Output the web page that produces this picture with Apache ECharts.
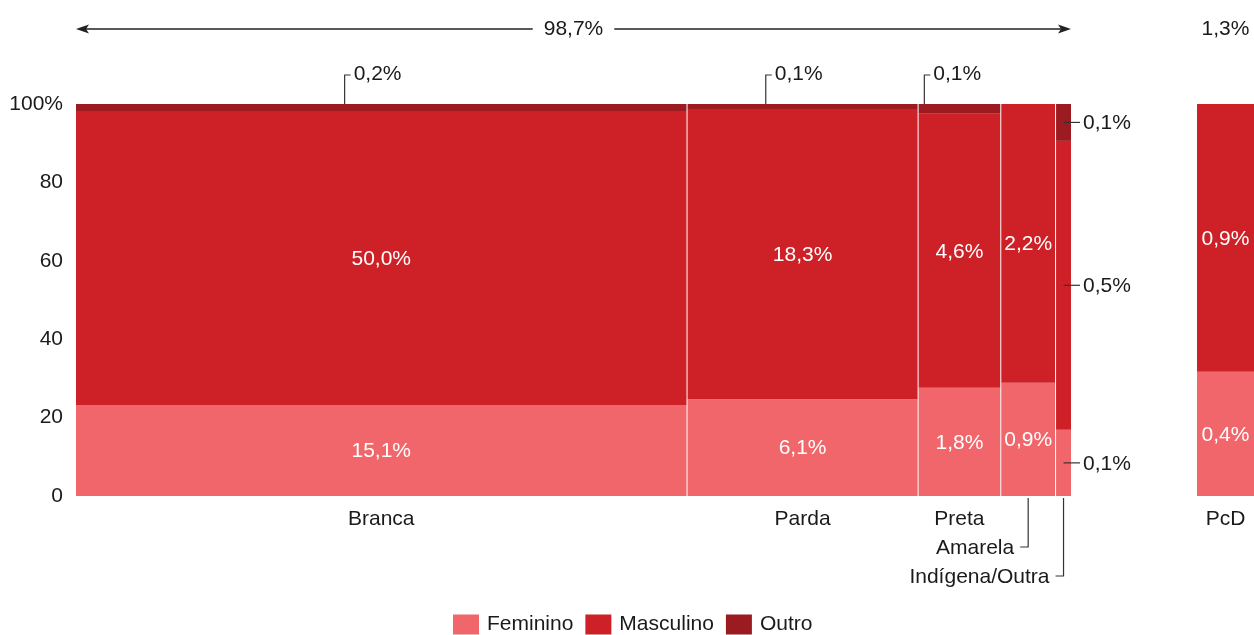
<!DOCTYPE html>
<html>
<head>
<meta charset="utf-8">
<script src="https://cdn.jsdelivr.net/npm/echarts@6/dist/echarts.min.js"></script>
<style>
  html, body { margin: 0; padding: 0; background: #fff; }
  #chart { width: 1254px; height: 635px; }
</style>
</head>
<body>
<div id="chart"></div>
<script>
// Dados
const categories = ['Branca', 'Parda', 'Preta', 'Amarela', 'Indígena/Outra'];
const colWidths = [61.4, 23.2, 8.3, 5.5, 1.5];          // largura relativa das colunas
const feminino = [23.2, 24.7, 27.6, 28.9, 16.9];        // % dentro de cada coluna
const masculino = [75.0, 74.0, 69.9, 71.1, 73.7];
const outro = [1.8, 1.3, 2.5, 0, 9.4];
const femLabels = ['15,1%', '6,1%', '1,8%', '0,9%', '0,1%'];
const mascLabels = ['50,0%', '18,3%', '4,6%', '2,2%', '0,5%'];
const outroLabels = ['0,2%', '0,1%', '0,1%', '', '0,1%'];

const pcdCategory = ['PcD'];
const pcdFeminino = [31.7];
const pcdMasculino = [68.3];
const pcdFemLabels = ['0,4%'];
const pcdMascLabels = ['0,9%'];

const totalLabels = ['98,7%', '1,3%'];
const seriesNames = ['Feminino', 'Masculino', 'Outro'];

// Layout / estilo
const COLORS = { Feminino: '#F0666A', Masculino: '#CD2027', Outro: '#9B1B21' };
const FONT = '"Liberation Sans", Arial, sans-serif';
const FS = 21;
const TEXT = '#1a1a1a';
const LEAD = '#333';
const outroLeaderFrac = [0.44, 0.34, 0.07]; // posição horizontal da linha-guia no topo

const chart = echarts.init(document.getElementById('chart'));

// monta os segmentos [início, fim, y0, y1, gap]
function buildSegments(widths, lower, values) {
  let acc = 0;
  return widths.map((w, i) => {
    const start = acc;
    acc += w;
    const y0 = lower[i];
    return [start, acc, y0, y0 + values[i], i < widths.length - 1 ? 1 : 0];
  });
}

const zeros = categories.map(() => 0);
const segFem = buildSegments(colWidths, zeros, feminino);
const segMasc = buildSegments(colWidths, feminino, masculino);
const segOutro = buildSegments(colWidths, feminino.map((f, i) => f + masculino[i]), outro);
const segPcdFem = buildSegments([1], [0], pcdFeminino);
const segPcdMasc = buildSegments([1], pcdFeminino, pcdMasculino);

function textEl(x, y, text, align, color) {
  return {
    type: 'text', x: x, y: y + 1,
    style: { text: text, fill: color || TEXT, font: FS + 'px ' + FONT, align: align || 'center', verticalAlign: 'middle' }
  };
}
function lineEl(points) {
  return { type: 'polyline', shape: { points: points }, style: { stroke: LEAD, lineWidth: 1.2, fill: null } };
}

function makeRender(kind, labels, cats) {
  return function (params, api) {
    const i = params.dataIndex;
    const p0 = api.coord([api.value(0), api.value(2)]);
    const p1 = api.coord([api.value(1), api.value(3)]);
    const gap = api.value(4) ? 1 : 0;
    const x = p0[0];
    const w = p1[0] - p0[0] - gap;
    const top = p1[1];
    const h = p0[1] - p1[1];
    const kids = [];
    if (h > 0) {
      kids.push({ type: 'rect', shape: { x: x, y: top, width: w, height: h }, style: { fill: api.visual('color') } });
    }
    const txt = labels[i];
    const cx = x + w / 2;
    if (txt) {
      if (w < 30) {
        // coluna estreita: rótulo ao lado
        const my = top + h / 2;
        kids.push(lineEl([[cx, my], [x + w + 9, my]]));
        kids.push(textEl(x + w + 12, my, txt, 'left'));
      } else if (kind === 'Outro') {
        const ax = x + outroLeaderFrac[i] * w;
        kids.push(lineEl([[ax, top], [ax, top - 29], [ax + 6, top - 29]]));
        kids.push(textEl(ax + 9, top - 31, txt, 'left'));
      } else {
        kids.push(textEl(cx, top + h / 2, txt, 'center', '#fff'));
      }
    }
    // rótulos de categoria abaixo das colunas
    if (kind === 'Feminino' && cats) {
      const bottom = p0[1];
      if (cats.length === 1 || w >= 60) {
        kids.push(textEl(cx, bottom + 22, cats[i], 'center'));
      } else {
        let level = 0;
        for (let k = 0; k <= i; k++) {
          const pk0 = api.coord([segFem[k][0], 0])[0];
          const pk1 = api.coord([segFem[k][1], 0])[0];
          if (pk1 - pk0 < 61) level++;
        }
        const ly = bottom + 22 + level * 29;
        kids.push(lineEl([[cx, bottom + 2], [cx, ly], [cx - 8, ly]]));
        kids.push(textEl(cx - 14, ly, cats[i], 'right'));
      }
    }
    return { type: 'group', children: kids };
  };
}

function customSeries(name, data, labels, cats, axisIdx) {
  return {
    name: name,
    type: 'custom',
    xAxisIndex: axisIdx,
    yAxisIndex: axisIdx,
    renderItem: makeRender(name, labels, cats),
    encode: { x: [0, 1], y: [2, 3] },
    itemStyle: { color: COLORS[name] },
    data: data,
    silent: true
  };
}

const total = colWidths.reduce((a, b) => a + b, 0);

const option = {
  animation: false,
  textStyle: { fontFamily: FONT },
  grid: [
    { left: 76, top: 104, width: 995, height: 392 },
    { left: 1197, top: 104, width: 57, height: 392 }
  ],
  xAxis: [
    { type: 'value', gridIndex: 0, min: 0, max: total, show: false },
    { type: 'value', gridIndex: 1, min: 0, max: 1, show: false }
  ],
  yAxis: [
    {
      type: 'value', gridIndex: 0, min: 0, max: 100, interval: 20,
      axisLine: { show: false }, axisTick: { show: false }, splitLine: { show: false },
      axisLabel: {
        margin: 13, fontSize: FS, color: TEXT, fontFamily: FONT,
        padding: [3, 0, 0, 0],
        formatter: (v) => (v === 100 ? '100%' : String(v))
      }
    },
    { type: 'value', gridIndex: 1, min: 0, max: 100, show: false }
  ],
  legend: {
    data: seriesNames,
    left: 448,
    top: 609,
    icon: 'rect',
    itemWidth: 26,
    itemHeight: 20,
    itemGap: 12,
    textStyle: { fontSize: FS, color: TEXT, fontFamily: FONT, padding: [2, 0, 0, 3] }
  },
  series: [
    customSeries('Feminino', segFem, femLabels, categories, 0),
    customSeries('Masculino', segMasc, mascLabels, null, 0),
    customSeries('Outro', segOutro, outroLabels, null, 0),
    customSeries('Feminino', segPcdFem, pcdFemLabels, pcdCategory, 1),
    customSeries('Masculino', segPcdMasc, pcdMascLabels, null, 1)
  ]
};

chart.setOption(option);

// seta de totais no topo
const left = chart.convertToPixel({ gridIndex: 0 }, [0, 100]);
const right = chart.convertToPixel({ gridIndex: 0 }, [total, 100]);
const pcdL = chart.convertToPixel({ gridIndex: 1 }, [0, 100]);
const pcdR = chart.convertToPixel({ gridIndex: 1 }, [1, 100]);
const ay = 29;
chart.setOption({
  graphic: [
    { type: 'line', shape: { x1: left[0] + 6, y1: ay, x2: right[0] - 6, y2: ay }, style: { stroke: '#222', lineWidth: 1.3 } },
    { type: 'polygon', shape: { points: [[left[0], ay], [left[0] + 13, ay - 4.5], [left[0] + 10, ay], [left[0] + 13, ay + 4.5]] }, style: { fill: '#222' } },
    { type: 'polygon', shape: { points: [[right[0], ay], [right[0] - 13, ay - 4.5], [right[0] - 10, ay], [right[0] - 13, ay + 4.5]] }, style: { fill: '#222' } },
    {
      type: 'text', x: (left[0] + right[0]) / 2, y: ay,
      style: { text: totalLabels[0], font: FS + 'px ' + FONT, fill: TEXT, align: 'center', verticalAlign: 'middle', backgroundColor: '#fff', padding: [2, 11] }
    },
    {
      type: 'text', x: (pcdL[0] + pcdR[0]) / 2, y: ay,
      style: { text: totalLabels[1], font: FS + 'px ' + FONT, fill: TEXT, align: 'center', verticalAlign: 'middle' }
    }
  ]
});

window.addEventListener('resize', () => chart.resize());
</script>
</body>
</html>
